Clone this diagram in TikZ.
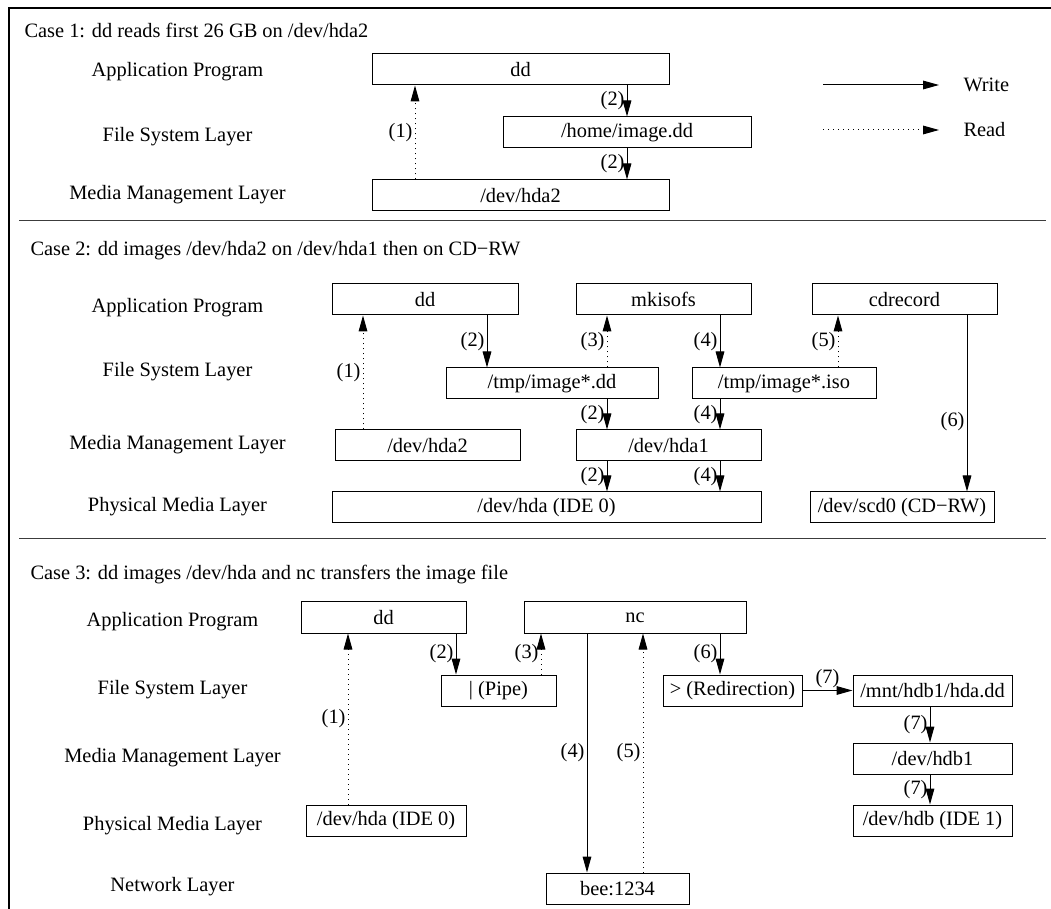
\documentclass[tikz,border=0pt]{standalone}
\usepackage{fontspec}
\setmainfont{Liberation Serif}
\usetikzlibrary{arrows.meta,calc}

\tikzset{every picture/.style={line width=0.75pt}}

\begin{document}
\begin{tikzpicture}[x=0.75pt,y=0.75pt,yscale=-1,xscale=1,
  every node/.style={font=\fontsize{15.3pt}{18pt}\selectfont},
  box/.style={draw, inner sep=0pt, minimum height=23.25pt},
  layer/.style={inner sep=0.75pt},
  wr/.style={-{Triangle[length=12pt,width=6.5pt]}},
  rd/.style={wr, dash pattern=on 0.75pt off 3pt},
  lbl/.style={inner sep=1.5pt}]
\useasboundingbox (0,0) rectangle (1051,909);

%Frame
\draw [line width=2pt]  (9,909) -- (9,8) -- (1051,8) ;
%Straight Lines (separators)
\draw [color={rgb, 255:red, 60; green, 60; blue, 60 }]  (19,221) -- (1046,221) ;
\draw [color={rgb, 255:red, 60; green, 60; blue, 60 }]  (19,539) -- (1046,539) ;

%%%%% Case 1
% Text Node
\node [anchor=west, layer] (t1) at (23,30) {Case 1: dd reads first 26 GB on /dev/hda2};
\node [layer] (l1app) at (177.5,72) {Application Program};
\node [layer] (l1fs) at (177.5,137) {File System Layer};
\node [layer] (l1mm) at (177.5,195) {Media Management Layer};
% Boxes
\node [box, minimum width=222.75pt] (c1dd) at (520.5,69.5) {dd};
\node [box, minimum width=186pt] (c1home) at (627,132.5) {/home/image.dd};
\node [box, minimum width=222.75pt] (c1hda2) at (520.5,195.5) {/dev/hda2};
% Arrows
\draw [rd] ($(c1hda2.north)+(-105.5,0)$) coordinate (a) -- (a |- c1dd.south) node [midway, left, lbl] {(1)};
\draw [wr] (c1dd.south -| c1home.north) -- (c1home.north) node [midway, left, lbl] {(2)};
\draw [wr] (c1home.south) -- (c1hda2.north -| c1home.south) node [midway, left, lbl] {(2)};
% Legend
\coordinate (lgw0) at (823,85);
\coordinate (lgw1) at (939,85);
\coordinate (lgr0) at (823,130);
\coordinate (lgr1) at (939,130);
\draw [wr] (lgw0) -- (lgw1) ;
\draw [rd] (lgr0) -- (lgr1) ;
\node [anchor=west, layer] (lgw) at (962,85) {Write};
\node [anchor=west, layer] (lgr) at (962,130) {Read};

%%%%% Case 2
% Text Node
\node [anchor=west, layer] (t2) at (29,251) {Case 2: dd images /dev/hda2 on /dev/hda1 then on CD−RW};
\node [layer] (l2app) at (177.5,308) {Application Program};
\node [layer] (l2fs) at (177.5,372) {File System Layer};
\node [layer] (l2mm) at (177.5,445) {Media Management Layer};
\node [layer] (l2pm) at (177.5,507) {Physical Media Layer};
% Boxes
\node [box, minimum width=139.5pt] (c2dd) at (425,299.5) {dd};
\node [box, minimum width=131.25pt] (c2mki) at (663.5,299.5) {mkisofs};
\node [box, minimum width=138.75pt] (c2cdr) at (904.5,299.5) {cdrecord};
\node [box, minimum width=159pt] (c2tdd) at (552,383.5) {/tmp/image*.dd};
\node [box, minimum width=138pt] (c2tiso) at (784,383.5) {/tmp/image*.iso};
\node [box, minimum width=138.75pt] (c2hda2) at (427.5,445.5) {/dev/hda2};
\node [box, minimum width=138.75pt] (c2hda1) at (668.5,445.5) {/dev/hda1};
\node [box, minimum width=321.75pt] (c2hda) at (546.5,507.5) {/dev/hda (IDE 0)};
\node [box, minimum width=138pt] (c2scd) at (902,507.5) {/dev/scd0 (CD−RW)};
% Arrows
\draw [rd] ($(c2hda2.north)+(-64.5,0)$) coordinate (a) -- (a |- c2dd.south) node [midway, left, lbl] {(1)};
\draw [wr] ($(c2dd.south)+(62,0)$) coordinate (a) -- (a |- c2tdd.north) node [midway, left, lbl] {(2)};
\draw [rd] ($(c2tdd.north)+(55,0)$) coordinate (a) -- (a |- c2mki.south) node [midway, left, lbl] {(3)};
\draw [wr] ($(c2mki.south)+(56.5,0)$) coordinate (a) -- (a |- c2tiso.north) node [midway, left, lbl] {(4)};
\draw [rd] ($(c2tiso.north)+(54,0)$) coordinate (a) -- (a |- c2cdr.south) node [midway, left, lbl] {(5)};
\draw [wr] ($(c2cdr.south)+(62.5,0)$) coordinate (a) -- (a |- c2scd.north) node [pos=0.6, left, lbl] {(6)};
\draw [wr] ($(c2tdd.south)+(55,0)$) coordinate (a) -- (a |- c2hda1.north) node [midway, left, lbl] {(2)};
\draw [wr] ($(c2tiso.south)+(-64,0)$) coordinate (a) -- (a |- c2hda1.north) node [midway, left, lbl] {(4)};
\draw [wr] ($(c2hda1.south)+(-61.5,0)$) coordinate (a) -- (a |- c2hda.north) node [midway, left, lbl] {(2)};
\draw [wr] ($(c2hda1.south)+(51.5,0)$) coordinate (a) -- (a |- c2hda.north) node [midway, left, lbl] {(4)};

%%%%% Case 3
% Text Node
\node [anchor=west, layer] (t3) at (29,575) {Case 3: dd images /dev/hda and nc transfers the image file};
\node [layer] (l3app) at (172.5,622) {Application Program};
\node [layer] (l3fs) at (172.5,690) {File System Layer};
\node [layer] (l3mm) at (172.5,758) {Media Management Layer};
\node [layer] (l3pm) at (172.5,826) {Physical Media Layer};
\node [layer] (l3net) at (172.5,887) {Network Layer};
% Boxes
\node [box, minimum width=123.75pt] (c3dd) at (383.5,617.5) {dd};
\node [box, minimum width=86.25pt] (c3pipe) at (498.5,690.5) {| (Pipe)};
\node [box, minimum width=120pt] (c3hda) at (386,820.5) {/dev/hda (IDE 0)};
\node [box, minimum width=166.5pt] (c3nc) at (635,617.5) {nc};
\node [box, minimum width=104.25pt] (c3redir) at (732.5,690.5) {> (Redirection)};
\node [box, minimum width=119.25pt] (c3mnt) at (932.5,690.5) {/mnt/hdb1/hda.dd};
\node [box, minimum width=119.25pt] (c3hdb1) at (932.5,758.5) {/dev/hdb1};
\node [box, minimum width=119.25pt] (c3hdb) at (932.5,820.5) {/dev/hdb (IDE 1)};
\node [box, minimum width=107.25pt] (c3bee) at (617.5,888.5) {bee:1234};
% Arrows
\draw [rd] ($(c3hda.north)+(-38,0)$) coordinate (a) -- (a |- c3dd.south) node [midway, left, lbl] {(1)};
\draw [wr] ($(c3dd.south)+(72.5,0)$) coordinate (a) -- (a |- c3pipe.north) node [midway, left, lbl] {(2)};
\draw [rd] ($(c3pipe.north)+(42.5,0)$) coordinate (a) -- (a |- c3nc.south) node [midway, left, lbl] {(3)};
\draw [wr] ($(c3nc.south)+(-48,0)$) coordinate (a) -- (a |- c3bee.north) node [midway, left, lbl] {(4)};
\draw [rd] ($(c3bee.north)+(25.5,0)$) coordinate (a) -- (a |- c3nc.south) node [midway, left, lbl] {(5)};
\draw [wr] ($(c3nc.south)+(85,0)$) coordinate (a) -- (a |- c3redir.north) node [midway, left, lbl] {(6)};
\draw [wr] (c3redir.east) -- (c3mnt.west) node [midway, above, lbl] {(7)};
\draw [wr] ($(c3mnt.south)+(-2.5,0)$) coordinate (a) -- (a |- c3hdb1.north) node [midway, left, lbl] {(7)};
\draw [wr] ($(c3hdb1.south)+(-2.5,0)$) coordinate (a) -- (a |- c3hdb.north) node [midway, left, lbl] {(7)};

\end{tikzpicture}
\end{document}
